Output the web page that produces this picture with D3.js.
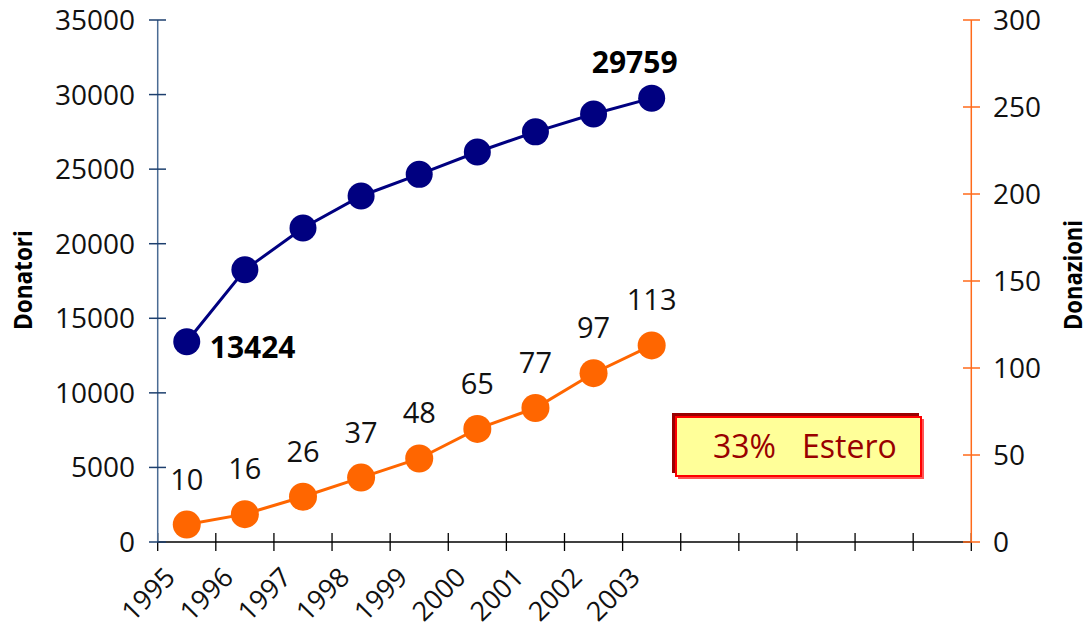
<!DOCTYPE html>
<html><head><meta charset="utf-8">
<script src="https://cdn.jsdelivr.net/npm/d3@7"></script>
<style>
html,body{margin:0;padding:0;background:#fff;}
svg{display:block;}
text{font-family:"Open Sans",sans-serif;}
</style></head>
<body>
<svg id="c" width="1088" height="634"></svg>
<script>
const years = ["1995","1996","1997","1998","1999","2000","2001","2002","2003"];
const blanks = ["b1","b2","b3","b4","b5"];
const donatori = [13424, 18250, 21050, 23200, 24650, 26150, 27500, 28700, 29759];
const donazioni = [10, 16, 26, 37, 48, 65, 77, 97, 113];
const leftTicks = [0,5000,10000,15000,20000,25000,30000,35000];
const rightTicks = [0,50,100,150,200,250,300];
const notePct = "33%";
const noteWord = "Estero";

const svg = d3.select("#c");
const cats = years.concat(blanks);
const x = d3.scaleBand().domain(cats).range([157.7, 971.3]).padding(0);
const yL = d3.scaleLinear().domain([0,35000]).range([542,20]);
const yR = d3.scaleLinear().domain([0,300]).range([542,20]);
const cx = d => x(d) + x.bandwidth()/2;

// bottom axis
const bottom = svg.append("g");
bottom.append("line").attr("x1",157.7).attr("x2",971.3).attr("y1",yL(0)).attr("y2",yL(0))
  .attr("stroke","#000").attr("stroke-width",1.3);
const edges = cats.map(c=>x(c)).concat([x.range()[1]]);
bottom.selectAll("line.t").data(edges).enter().append("line")
  .attr("x1",d=>d).attr("x2",d=>d).attr("y1",533).attr("y2",551)
  .attr("stroke","#000").attr("stroke-width",1.3);
bottom.selectAll("text").data(years).enter().append("text")
  .attr("transform",d=>`translate(${cx(d)-10},${579}) rotate(-45)`)
  .attr("text-anchor","end").attr("font-size",27).attr("fill","#111").text(d=>d);

// left axis
const left = svg.append("g");
left.append("line").attr("x1",157.7).attr("x2",157.7).attr("y1",yL(35000)).attr("y2",yL(0))
  .attr("stroke","#4a6b93").attr("stroke-width",1.5);
left.selectAll("line.t").data(leftTicks).enter().append("line")
  .attr("x1",149).attr("x2",166).attr("y1",d=>yL(d)).attr("y2",d=>yL(d))
  .attr("stroke","#1d3f6e").attr("stroke-width",1.5);
left.selectAll("text").data(leftTicks).enter().append("text")
  .attr("x",135).attr("y",d=>yL(d)+10).attr("text-anchor","end")
  .attr("font-size",28).attr("fill","#111").text(d=>d);

// right axis
const right = svg.append("g");
right.append("line").attr("x1",971.3).attr("x2",971.3).attr("y1",yR(300)).attr("y2",yR(0))
  .attr("stroke","#ff6a1a").attr("stroke-width",1.5);
right.selectAll("line.t").data(rightTicks).enter().append("line")
  .attr("x1",963).attr("x2",980).attr("y1",d=>yR(d)).attr("y2",d=>yR(d))
  .attr("stroke","#ff6a1a").attr("stroke-width",1.5);
right.selectAll("text").data(rightTicks).enter().append("text")
  .attr("x",993).attr("y",d=>yR(d)+10).attr("text-anchor","start")
  .attr("font-size",28).attr("fill","#111").text(d=>d);

// axis titles
svg.append("text").attr("transform","translate(32,280) rotate(-90)")
  .attr("text-anchor","middle").attr("font-family","Liberation Sans")
  .attr("font-weight","bold").attr("font-size",25).attr("textLength",100)
  .attr("lengthAdjust","spacingAndGlyphs").text("Donatori");
svg.append("text").attr("transform","translate(1082,275) rotate(-90)")
  .attr("text-anchor","middle").attr("font-family","Liberation Sans")
  .attr("font-weight","bold").attr("font-size",25).attr("textLength",110)
  .attr("lengthAdjust","spacingAndGlyphs").text("Donazioni");

// series lines
const lineL = d3.line().x((d,i)=>cx(years[i])).y(d=>yL(d));
const lineR = d3.line().x((d,i)=>cx(years[i])).y(d=>yR(d));
svg.append("path").attr("d",lineL(donatori)).attr("fill","none").attr("stroke","#000080").attr("stroke-width",3);
svg.append("path").attr("d",lineR(donazioni)).attr("fill","none").attr("stroke","#ff6600").attr("stroke-width",3);
svg.selectAll("circle.l").data(donatori).enter().append("circle")
  .attr("cx",(d,i)=>cx(years[i])).attr("cy",d=>yL(d)).attr("r",13.5).attr("fill","#000080");
svg.selectAll("circle.r").data(donazioni).enter().append("circle")
  .attr("cx",(d,i)=>cx(years[i])).attr("cy",d=>yR(d)).attr("r",14).attr("fill","#ff6600");

// labels
svg.selectAll("text.r").data(donazioni).enter().append("text")
  .attr("x",(d,i)=>cx(years[i])).attr("y",d=>yR(d)-35).attr("text-anchor","middle")
  .attr("font-size",29).attr("fill","#111").text(d=>d);
const first = 0, last = years.length-1;
svg.append("text").attr("x",cx(years[first])+23).attr("y",yL(donatori[first])+16)
  .attr("font-size",30).attr("font-weight","bold").attr("fill","#000").text(donatori[first]);
svg.append("text").attr("x",cx(years[last])-17).attr("y",yL(donatori[last])-25)
  .attr("text-anchor","middle").attr("font-size",30).attr("font-weight","bold").attr("fill","#000").text(donatori[last]);

// note box
const box = svg.append("g");
box.append("rect").attr("x",672).attr("y",413).attr("width",247).attr("height",60).attr("fill","#990000");
box.append("rect").attr("x",678).attr("y",419).attr("width",246).attr("height",60).attr("fill","#ff5555");
box.append("rect").attr("x",676).attr("y",417).attr("width",245).attr("height",59)
  .attr("fill","#ffff99").attr("stroke","#ff0000").attr("stroke-width",2);
box.append("text").attr("x",776).attr("y",458).attr("text-anchor","end")
  .attr("font-size",32).attr("fill","#990000").text(notePct);
box.append("text").attr("x",802).attr("y",458).attr("text-anchor","start")
  .attr("font-size",32).attr("fill","#990000").text(noteWord);
</script>
</body></html>
